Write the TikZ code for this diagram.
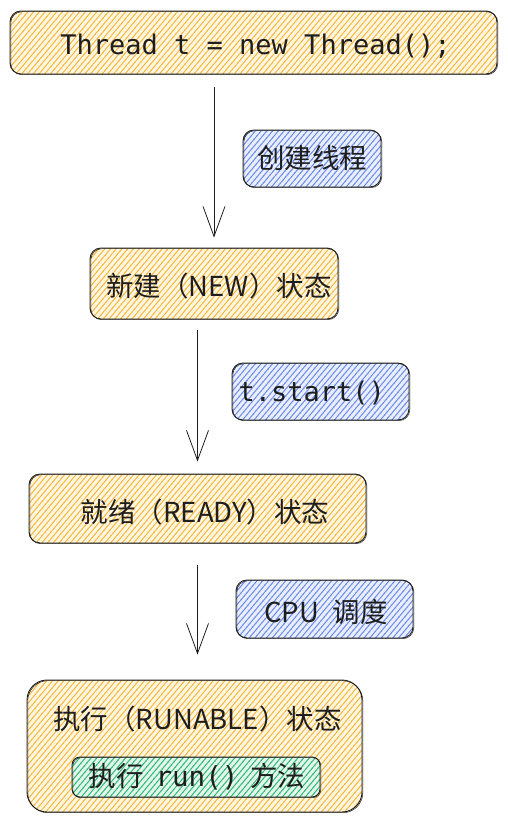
\documentclass[tikz,border=0pt]{standalone}
\usepackage{fontspec}
\setmainfont{Noto Sans CJK SC}
\newfontfamily\cjk{Noto Sans CJK SC}
\newfontfamily\codefont{DejaVu Sans Mono}
\usetikzlibrary{arrows.meta,patterns.meta,calc}
\definecolor{ylwline}{HTML}{F8B93F}
\definecolor{ylwbg}{HTML}{FFF6E2}
\definecolor{blueline}{HTML}{6F8CEB}
\definecolor{bluebg}{HTML}{E9EEFC}
\definecolor{grnline}{HTML}{32B97B}
\definecolor{grnbg}{HTML}{E2F6EA}
\definecolor{inkc}{HTML}{1E1E1E}
\tikzdeclarepattern{
  name=hatch,
  type=uncolored,
  bottom left={(-.5pt,-.5pt)},
  top right={(4.9pt,4.9pt)},
  tile size={(4.4pt,4.4pt)},
  tile transformation={rotate=50},
  code={\draw[line width=0.95pt] (-.5pt,2.2pt) -- (4.9pt,2.2pt);}
}
\tikzset{
  sketchbox/.style={rounded corners=11pt, draw=inkc, line width=0.9pt,
    inner sep=0pt, text=inkc,
    postaction={draw=inkc, line width=0.5pt, rounded corners=12pt,
      transform canvas={shift={(0.8pt,-0.7pt)}}}},
  ylwbox/.style={sketchbox, preaction={fill=ylwbg}, pattern=hatch, pattern color=ylwline},
  bluebox/.style={sketchbox, preaction={fill=bluebg}, pattern=hatch, pattern color=blueline},
  grnbox/.style={sketchbox, rounded corners=8pt, preaction={fill=grnbg}, pattern=hatch, pattern color=grnline},
  flowarrow/.style={draw=inkc, line width=0.8pt, -{Straight Barb[length=30pt,width=22pt,line width=0.8pt]}},
  cjktext/.style={font=\cjk\fontsize{27.5}{32}\selectfont},
  codetext/.style={font=\codefont\fontsize{27}{32}\selectfont},
}
\begin{document}
\begin{tikzpicture}[x=1pt,y=-1pt]
\useasboundingbox (0,0) rectangle (507,822);

% main state boxes
\node[ylwbox, minimum width=487pt, minimum height=63pt] (thread) at (253.5,42.5) {};
\node[codetext, text=inkc] (threadtxt) at (255.5,46) {Thread t = new Thread();};

\node[ylwbox, minimum width=248pt, minimum height=71pt] (new) at (214,283.5) {};
\node[cjktext, text=inkc] (newtxt) at (219,286) {新建（NEW）状态};

\node[ylwbox, minimum width=337pt, minimum height=69pt] (ready) at (197.5,508.5) {};
\node[cjktext, text=inkc] (readytxt) at (205,512) {就绪（READY）状态};

\node[ylwbox, rounded corners=20pt, minimum width=335pt, minimum height=132pt] (run) at (194.5,746) {};
\node[cjktext, text=inkc] (runtxt) at (197.5,719) {执行（RUNABLE）状态};

\node[grnbox, minimum width=248pt, minimum height=40pt] (method) at (196,777) {};
\node[cjktext, text=inkc] (methodtxt) at (197,777) {执行\hspace{12pt}{\codefont run()}\hspace{12pt}方法};

% edge labels
\node[bluebox, minimum width=138pt, minimum height=57pt] (lbl1) at (312,158.5) {};
\node[cjktext, text=inkc] (lbl1txt) at (312,158) {创建线程};

\node[bluebox, minimum width=177pt, minimum height=57pt] (lbl2) at (320.5,391.5) {};
\node[codetext, text=inkc, anchor=west] (lbl2txt) at (235,393) {t.start()};

\node[bluebox, minimum width=177pt, minimum height=58pt] (lbl3) at (324.5,609) {};
\node[cjktext, text=inkc] (lbl3txt) at (326,612) {CPU\hspace{14pt}调度};

% connectors
\draw[flowarrow, shorten <=13pt, shorten >=10pt] (thread.south -| new.north) -- (new.north);
\draw[flowarrow, shorten <=11pt, shorten >=12pt] (new.south -| ready.north) -- (ready.north);
\draw[flowarrow, shorten <=22pt, shorten >=25pt] (ready.south) -- (run.north -| ready.south);
\end{tikzpicture}
\end{document}
